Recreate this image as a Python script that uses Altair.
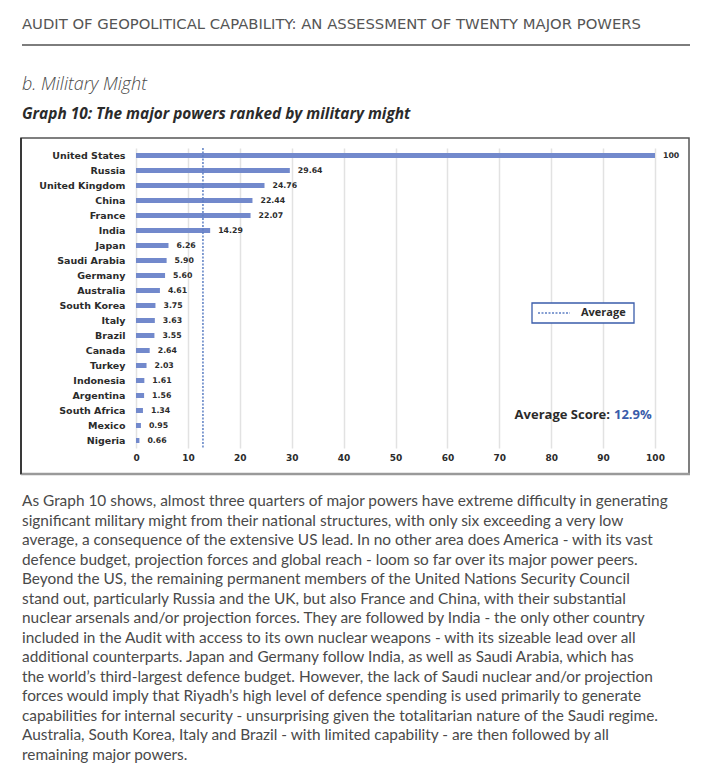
import altair as alt
import pandas as pd

countries = ["United States", "Russia", "United Kingdom", "China", "France", "India",
             "Japan", "Saudi Arabia", "Germany", "Australia", "South Korea", "Italy",
             "Brazil", "Canada", "Turkey", "Indonesia", "Argentina", "South Africa",
             "Mexico", "Nigeria"]
scores = [100, 29.64, 24.76, 22.44, 22.07, 14.29, 6.26, 5.90, 5.60, 4.61, 3.75, 3.63,
          3.55, 2.64, 2.03, 1.61, 1.56, 1.34, 0.95, 0.66]
score_labels = ["100", "29.64", "24.76", "22.44", "22.07", "14.29", "6.26", "5.90", "5.60",
                "4.61", "3.75", "3.63", "3.55", "2.64", "2.03", "1.61", "1.56", "1.34",
                "0.95", "0.66"]
average = [12.9]
x_ticks = [0, 10, 20, 30, 40, 50, 60, 70, 80, 90, 100]

header = "AUDIT OF GEOPOLITICAL CAPABILITY: AN ASSESSMENT OF TWENTY MAJOR POWERS"
section = "b. Military Might"
graph_title = "Graph 10: The major powers ranked by military might"
paragraph = [
    "As Graph 10 shows, almost three quarters of major powers have extreme difficulty in generating",
    "significant military might from their national structures, with only six exceeding a very low",
    "average, a consequence of the extensive US lead. In no other area does America - with its vast",
    "defence budget, projection forces and global reach - loom so far over its major power peers.",
    "Beyond the US, the remaining permanent members of the United Nations Security Council",
    "stand out, particularly Russia and the UK, but also France and China, with their substantial",
    "nuclear arsenals and/or projection forces. They are followed by India - the only other country",
    "included in the Audit with access to its own nuclear weapons - with its sizeable lead over all",
    "additional counterparts. Japan and Germany follow India, as well as Saudi Arabia, which has",
    "the world\u2019s third-largest defence budget. However, the lack of Saudi nuclear and/or projection",
    "forces would imply that Riyadh\u2019s high level of defence spending is used primarily to generate",
    "capabilities for internal security - unsurprising given the totalitarian nature of the Saudi regime.",
    "Australia, South Korea, Italy and Brazil - with limited capability - are then followed by all",
    "remaining major powers.",
]

FONT = "Open Sans"
AXF = "DejaVu Sans"
BODY = "Lato"
BAR = "#7289cc"
BLUE = "#3a5caa"
DARK = "#2b2b2b"
TEXT = "#4a4a4a"

df = pd.DataFrame({"country": countries, "score": scores, "label": score_labels})
avg_df = pd.DataFrame({"avg": average})
one = pd.DataFrame({"a": [0]})

y_enc = alt.Y("country:N", sort=countries, title=None,
              scale=alt.Scale(paddingInner=0, paddingOuter=0),
              axis=alt.Axis(orient="left", labelFont=AXF, labelFontWeight="bold",
                            labelFontSize=9.5, labelColor=DARK, labelPadding=11, ticks=False,
                            domain=False, grid=False))
x_enc = alt.X("score:Q", title=None, scale=alt.Scale(domain=[0, 100], nice=False),
              axis=alt.Axis(values=x_ticks, labelFont=AXF, labelFontWeight="bold",
                            labelFontSize=9, labelColor=DARK, labelPadding=5,
                            labelFlush=False, ticks=False, domain=False, grid=True,
                            gridColor="#e2e2e2", gridWidth=1.5))

# chart frame and page decorations (positions in pixels relative to plot area)
frame = alt.Chart(one).mark_rect(fill="transparent", stroke="#555555",
                                 strokeWidth=1.5).encode(
    x=alt.value(-115), x2=alt.value(553), y=alt.value(-10), y2=alt.value(326))
frame_bottom = alt.Chart(one).mark_rule(color="#9a9a9a", strokeWidth=2.5).encode(
    x=alt.value(-115), x2=alt.value(554), y=alt.value(326))
frame_left = alt.Chart(one).mark_rule(color="#222222", strokeWidth=1.5).encode(
    x=alt.value(-115), y=alt.value(-10), y2=alt.value(326))

bars = alt.Chart(df).mark_bar(color=BAR, size=5).encode(x=x_enc, y=y_enc)
labels = alt.Chart(df).mark_text(align="left", baseline="middle", dx=8, font=AXF,
                                 fontWeight="bold", fontSize=7.8, color=DARK).encode(
    x="score:Q", y=alt.Y("country:N", sort=countries), text="label:N")
avg_rule = alt.Chart(avg_df).mark_rule(color="#5d7fc4", strokeWidth=1.5,
                                       strokeDash=[2, 1.5]).encode(x="avg:Q")

legend_box = alt.Chart(one).mark_rect(fill="white", stroke=BLUE, strokeWidth=1.3).encode(
    x=alt.value(396), x2=alt.value(498), y=alt.value(155), y2=alt.value(175))
legend_line = alt.Chart(one).mark_rule(color="#5d7fc4", strokeWidth=1.5,
                                       strokeDash=[2, 1.5]).encode(
    x=alt.value(402), x2=alt.value(434), y=alt.value(165))
legend_text = alt.Chart(one).mark_text(text="Average", align="left", baseline="middle",
                                       font=FONT, fontWeight="bold", fontSize=11,
                                       color=DARK).encode(x=alt.value(445), y=alt.value(165))
avg_text1 = alt.Chart(one).mark_text(text="Average Score:", align="right", baseline="middle",
                                     font=FONT, fontWeight="bold", fontSize=13,
                                     color=DARK).encode(x=alt.value(474), y=alt.value(267))
avg_text2 = alt.Chart(one).mark_text(text="12.9%", align="left", baseline="middle",
                                     font=FONT, fontWeight="bold", fontSize=13,
                                     color=BLUE).encode(x=alt.value(478), y=alt.value(267))

header_t = alt.Chart(one).mark_text(text=header, align="left", baseline="middle",
                                    font="DejaVu Sans", fontSize=14.8, color="#555555").encode(
    x=alt.value(-114), y=alt.value(-123))
header_rule = alt.Chart(one).mark_rule(color="#7d7d7d", strokeWidth=2).encode(
    x=alt.value(-114), x2=alt.value(554), y=alt.value(-103))
section_t = alt.Chart(one).mark_text(text=section, align="left", baseline="middle", font=FONT,
                                     fontSize=18, fontStyle="italic", fontWeight=300,
                                     color=TEXT).encode(x=alt.value(-114), y=alt.value(-63))
title_t = alt.Chart(one).mark_text(text=graph_title, align="left", baseline="middle",
                                   font=FONT, fontSize=15.4, fontStyle="italic",
                                   fontWeight="bold", color=DARK).encode(
    x=alt.value(-114), y=alt.value(-34))
para_t = alt.Chart(one).mark_text(text="\n".join(paragraph), lineBreak="\n",
                                  lineHeight=19.5, align="left", baseline="middle",
                                  font=BODY, fontSize=15.4, color=TEXT).encode(
    x=alt.value(-114), y=alt.value(353))

chart = alt.layer(
    frame, frame_bottom, frame_left, bars, labels, avg_rule, legend_box, legend_line,
    legend_text, avg_text1, avg_text2, header_t, header_rule, section_t, title_t, para_t,
).properties(
    width=519, height=300,
    autosize=alt.AutoSizeParams(type="none"),
    padding={"left": 128, "top": 140, "right": 57, "bottom": 315},
    background="white",
).configure_view(stroke=None)

chart.save("out.html", embed_options={"renderer": "svg", "actions": False})
